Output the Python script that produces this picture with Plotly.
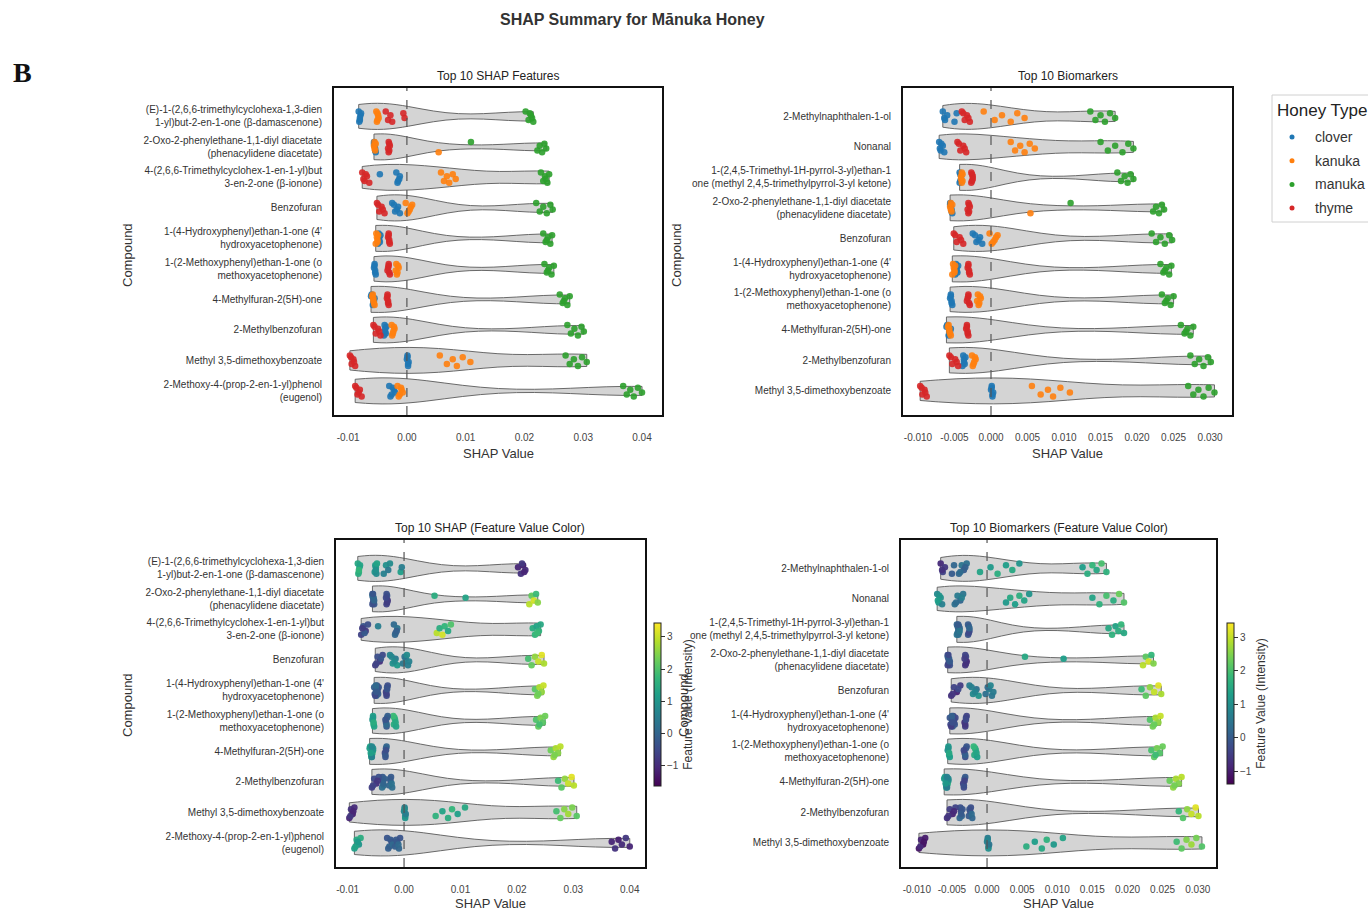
import plotly.graph_objects as go

# ---------------------------------------------------------------- data
HONEY_TYPES = ["clover", "kanuka", "manuka", "thyme"]
HONEY_COLORS = ["#1f77b4", "#ff7f0e", "#2ca02c", "#d62728"]

COMPOUNDS = [
    "(E)-1-(2,6,6-trimethylcyclohexa-1,3-dien<br>1-yl)but-2-en-1-one (β-damascenone)",
    "2-Oxo-2-phenylethane-1,1-diyl diacetate<br>(phenacylidene diacetate)",
    "4-(2,6,6-Trimethylcyclohex-1-en-1-yl)but<br>3-en-2-one (β-ionone)",
    "Benzofuran",
    "1-(4-Hydroxyphenyl)ethan-1-one (4'<br>hydroxyacetophenone)",
    "1-(2-Methoxyphenyl)ethan-1-one (o<br>methoxyacetophenone)",
    "4-Methylfuran-2(5H)-one",
    "2-Methylbenzofuran",
    "Methyl 3,5-dimethoxybenzoate",
    "2-Methoxy-4-(prop-2-en-1-yl)phenol<br>(eugenol)",
    "2-Methylnaphthalen-1-ol",
    "Nonanal",
    "1-(2,4,5-Trimethyl-1H-pyrrol-3-yl)ethan-1<br>one (methyl 2,4,5-trimethylpyrrol-3-yl ketone)",
]

# SHAP values per sample, one list per compound (same order as COMPOUNDS)
SHAP_CLOVER = [
    [-0.0082, -0.0080, -0.0079, -0.0081, -0.0078, -0.0080],
    [-0.0056, -0.0054, -0.0055, -0.0053, -0.0056, -0.0054],
    [-0.0018, -0.0015, -0.0012, -0.0016, -0.0046, -0.0013],
    [-0.0025, -0.0020, -0.0015, -0.0012, -0.0022, -0.0017],
    [-0.0048, -0.0046, -0.0047, -0.0049, -0.0045, -0.0047],
    [-0.0055, -0.0054, -0.0056, -0.0053, -0.0055, -0.0054],
    [-0.0060, -0.0057, -0.0055, -0.0058, -0.0061, -0.0056],
    [-0.0038, -0.0036, -0.0037, -0.0039, -0.0035, -0.0037],
    [0.0001, 0.0002, 0.0000, 0.0002, 0.0001, 0.0003],
    [-0.0030, -0.0026, -0.0022, -0.0028, -0.0024, -0.0020],
    [-0.0066, -0.0063, -0.0060, -0.0050, -0.0047, -0.0064],
    [-0.0071, -0.0069, -0.0066, -0.0064, -0.0068, -0.0070],
    [-0.0043, -0.0042, -0.0041, -0.0043, -0.0042, -0.0041],
]
SHAP_KANUKA = [
    [-0.0052, -0.0050, -0.0049, -0.0051, -0.0050, -0.0048],
    [-0.0055, -0.0054, -0.0056, 0.0054, -0.0053, -0.0055],
    [0.0058, 0.0063, 0.0068, 0.0072, 0.0078, 0.0083],
    [-0.0002, 0.0003, 0.0007, 0.0001, 0.0009, 0.0005],
    [-0.0052, -0.0050, -0.0051, -0.0053, -0.0049, -0.0050],
    [-0.0018, -0.0016, -0.0014, -0.0017, -0.0015, -0.0019],
    [-0.0058, -0.0056, -0.0057, -0.0055, -0.0059, -0.0057],
    [-0.0026, -0.0024, -0.0021, -0.0025, -0.0022, -0.0023],
    [0.0056, 0.0068, 0.0078, 0.0085, 0.0095, 0.0108],
    [-0.0016, -0.0012, -0.0009, -0.0014, -0.0010, -0.0007],
    [-0.0010, 0.0005, 0.0015, 0.0027, 0.0036, 0.0046],
    [0.0027, 0.0033, 0.0040, 0.0046, 0.0053, 0.0060],
    [-0.0040, -0.0039, -0.0041, -0.0040, -0.0039, -0.0041],
]
SHAP_MANUKA = [
    [0.0202, 0.0207, 0.0211, 0.0215, 0.0209, 0.0213],
    [0.0109, 0.0222, 0.0226, 0.0230, 0.0234, 0.0237],
    [0.0228, 0.0232, 0.0235, 0.0239, 0.0242, 0.0236],
    [0.0220, 0.0226, 0.0232, 0.0238, 0.0244, 0.0248],
    [0.0232, 0.0236, 0.0240, 0.0244, 0.0247, 0.0238],
    [0.0234, 0.0238, 0.0242, 0.0246, 0.0250, 0.0240],
    [0.0260, 0.0265, 0.0269, 0.0273, 0.0277, 0.0267],
    [0.0273, 0.0279, 0.0285, 0.0291, 0.0297, 0.0301],
    [0.0270, 0.0277, 0.0284, 0.0291, 0.0298, 0.0306],
    [0.0368, 0.0374, 0.0380, 0.0386, 0.0393, 0.0400],
    [0.0136, 0.0143, 0.0150, 0.0156, 0.0163, 0.0170],
    [0.0150, 0.0160, 0.0170, 0.0180, 0.0188, 0.0195],
    [0.0173, 0.0178, 0.0183, 0.0187, 0.0191, 0.0195],
]
SHAP_THYME = [
    [-0.0036, -0.0032, -0.0028, -0.0025, -0.0006, -0.0004],
    [-0.0031, -0.0030, -0.0029, -0.0031, -0.0030, -0.0032],
    [-0.0076, -0.0072, -0.0068, -0.0064, -0.0070, -0.0074],
    [-0.0051, -0.0047, -0.0043, -0.0038, -0.0049, -0.0041],
    [-0.0031, -0.0030, -0.0032, -0.0029, -0.0031, -0.0030],
    [-0.0031, -0.0030, -0.0032, -0.0029, -0.0031, -0.0033],
    [-0.0033, -0.0032, -0.0034, -0.0031, -0.0033, -0.0032],
    [-0.0057, -0.0053, -0.0049, -0.0045, -0.0055, -0.0047],
    [-0.0097, -0.0094, -0.0091, -0.0088, -0.0095, -0.0090],
    [-0.0088, -0.0084, -0.0080, -0.0077, -0.0086, -0.0082],
    [-0.0040, -0.0036, -0.0033, -0.0029, -0.0038, -0.0031],
    [-0.0046, -0.0042, -0.0038, -0.0034, -0.0044, -0.0036],
    [-0.0027, -0.0026, -0.0025, -0.0027, -0.0026, -0.0025],
]

# standardized feature value (intensity) of each sample
FEAT_CLOVER = [
    [1.4, 1.6, 1.2, 1.5, 1.3, 1.7],
    [-0.3, 0.0, -0.5, -0.2, 0.1, -0.4],
    [0.1, -0.2, 0.3, 0.0, 0.5, -0.1],
    [0.6, 0.9, 0.4, 1.1, 0.7, 0.8],
    [-0.4, -0.1, -0.6, 0.0, -0.3, -0.2],
    [1.2, 1.4, 1.0, 1.3, 1.1, 1.5],
    [1.3, 1.5, 1.1, 1.4, 1.2, 1.6],
    [-0.2, 0.1, -0.4, 0.2, -0.1, 0.0],
    [0.6, 0.9, 0.7, 1.0, 0.8, 0.5],
    [-0.3, 0.0, -0.5, -0.1, -0.2, 0.1],
    [-0.8, -0.4, -0.6, 0.0, 0.2, -0.7],
    [0.9, 1.2, 1.0, 0.7, 1.1, 1.3],
    [0.2, 0.4, 0.3, 0.5, 0.1, 0.3],
]
FEAT_KANUKA = [
    [1.0, 1.2, 0.8, 1.1, 0.9, 1.3],
    [-0.2, 0.1, -0.4, 1.5, 0.0, -0.3],
    [2.9, 1.5, 3.1, 1.7, 1.4, 2.0],
    [0.4, 0.7, 0.5, 0.3, 0.6, 0.8],
    [-0.3, 0.0, -0.5, -0.1, -0.2, 0.1],
    [1.5, 1.7, 1.3, 1.6, 1.4, 1.8],
    [0.8, 1.0, 0.6, 0.9, 1.2, 0.7],
    [0.0, -0.3, 0.2, -0.1, 0.3, -0.2],
    [1.6, 1.3, 1.5, 1.7, 1.2, 1.4],
    [-0.1, -0.4, 0.0, -0.2, 0.1, -0.3],
    [1.4, 1.2, 1.6, 1.3, 1.5, 1.1],
    [1.2, 1.5, 1.3, 1.6, 1.4, 1.1],
    [0.3, 0.1, 0.4, 0.2, 0.5, 0.0],
]
FEAT_MANUKA = [
    [-1.1, -0.9, -1.2, -1.0, -0.8, -1.1],
    [1.3, 2.9, 2.2, 3.1, 1.8, 2.5],
    [1.5, 1.7, 1.3, 1.6, 1.4, 1.8],
    [1.9, 2.2, 2.6, 3.0, 3.2, 2.8],
    [2.1, 2.4, 2.8, 2.6, 3.0, 2.3],
    [2.0, 2.2, 2.4, 2.1, 2.3, 1.9],
    [2.3, 2.6, 2.8, 2.5, 2.9, 2.4],
    [1.8, 2.1, 2.6, 3.0, 3.2, 2.9],
    [1.9, 2.2, 2.5, 2.7, 2.4, 2.1],
    [-1.1, -0.9, -1.2, -1.0, -0.8, -1.1],
    [1.3, 1.6, 1.8, 1.5, 2.0, 1.7],
    [1.4, 1.7, 2.0, 1.6, 2.3, 2.1],
    [1.5, 1.7, 1.4, 1.6, 1.8, 1.5],
]
FEAT_THYME = [
    [0.6, 0.9, 0.4, 0.8, 1.2, 0.5],
    [-0.6, -0.3, -0.8, -0.4, -0.7, -0.5],
    [-0.6, -0.3, -0.8, -0.4, -0.2, -0.7],
    [-0.7, -0.4, -0.9, -0.5, -0.6, -0.3],
    [-0.5, -0.2, -0.7, -0.4, -0.6, -0.3],
    [-0.2, 0.0, -0.4, -0.1, 0.1, -0.3],
    [-0.3, -0.1, -0.5, 0.0, -0.2, -0.4],
    [-0.7, -0.5, -0.9, -0.4, -0.6, -0.8],
    [-1.1, -0.9, -1.2, -1.0, -0.8, -1.1],
    [1.2, 1.4, 1.0, 1.5, 1.3, 1.1],
    [0.2, 0.5, 0.0, 0.4, 0.3, 0.1],
    [0.4, 0.6, 0.2, 0.5, 0.3, 0.7],
    [-0.1, 0.1, -0.2, 0.0, -0.3, 0.2],
]

# compounds shown in each panel, top to bottom (indices into COMPOUNDS)
SHAP_TOP10 = [0, 1, 2, 3, 4, 5, 6, 7, 8, 9]
BIOMARKER_TOP10 = [10, 11, 12, 1, 3, 4, 5, 6, 7, 8]

TICKS_SHAP = [-0.01, 0.0, 0.01, 0.02, 0.03, 0.04]
TICKS_BIO = [-0.010, -0.005, 0.000, 0.005, 0.010, 0.015, 0.020, 0.025, 0.030]
COLORBAR_TICKS = [-1, 0, 1, 2, 3]

SHAP_BY_TYPE = [SHAP_CLOVER, SHAP_KANUKA, SHAP_MANUKA, SHAP_THYME]
FEAT_BY_TYPE = [FEAT_CLOVER, FEAT_KANUKA, FEAT_MANUKA, FEAT_THYME]

# ---------------------------------------------------------------- layout helpers
W, H = 1368, 911
FONT = "Liberation Sans, Arial, sans-serif"
# vertical spread of points inside a violin (strip-plot pattern, in row units)
SPREAD = [-0.16, 0.12, -0.04, 0.18, -0.10, 0.05]


def px(x):
    return x / W


def py(y):
    return 1 - y / H


def label(text, x, y, size, color="#333", angle=0, xanchor="center", family=None):
    f = dict(size=size, color=color)
    if family:
        f["family"] = family
    return dict(text=text, x=px(x), y=py(y), xref="paper", yref="paper",
                xanchor=xanchor, yanchor="middle", textangle=angle,
                showarrow=False, font=f)


panels = [
    dict(k="", order=SHAP_TOP10, ticks=TICKS_SHAP, fmt="{:.2f}", by_value=False,
         xdom=(334, 662), ydom=(88, 415), xr=(-0.0124, 0.0434), yr=(9.79, -0.93),
         title="Top 10 SHAP Features"),
    dict(k="2", order=BIOMARKER_TOP10, ticks=TICKS_BIO, fmt="{:.3f}", by_value=False,
         xdom=(903, 1232), ydom=(88, 415), xr=(-0.01205, 0.0330), yr=(9.79, -0.93),
         title="Top 10 Biomarkers"),
    dict(k="3", order=SHAP_TOP10, ticks=TICKS_SHAP, fmt="{:.2f}", by_value=True,
         xdom=(336, 645), ydom=(540, 867), xr=(-0.01206, 0.0427), yr=(9.79, -0.93),
         title="Top 10 SHAP (Feature Value Color)",
         cb=dict(x=654, top=623, bottom=786, cmin=-1.63, cmax=3.43)),
    dict(k="4", order=BIOMARKER_TOP10, ticks=TICKS_BIO, fmt="{:.3f}", by_value=True,
         xdom=(901, 1216), ydom=(540, 867), xr=(-0.01225, 0.0326), yr=(9.79, -0.93),
         title="Top 10 Biomarkers (Feature Value Color)",
         cb=dict(x=1227, top=623, bottom=784, cmin=-1.37, cmax=3.42)),
]

fig = go.Figure()
layout = dict(
    width=W, height=H, margin=dict(l=0, r=0, t=0, b=0),
    paper_bgcolor="white", plot_bgcolor="white",
    font=dict(family=FONT, color="#333"),
    violinmode="overlay", shapes=[], annotations=[], showlegend=False,
)

for p in panels:
    xa, ya = "x" + p["k"], "y" + p["k"]
    rows = p["order"]

    # one violin per compound over all honey types
    for r, ci in enumerate(rows):
        vals = []
        for t in range(4):
            vals += SHAP_BY_TYPE[t][ci]
        fig.add_trace(go.Violin(
            x=vals, y0=r, orientation="h", xaxis=xa, yaxis=ya,
            width=0.85, spanmode="hard", points=False, side="both",
            fillcolor="rgba(205,205,205,0.85)", line=dict(color="#5a5a5a", width=0.9),
            showlegend=False, hoverinfo="skip",
        ))

    if not p["by_value"]:
        for t, name in enumerate(HONEY_TYPES):
            xs, ys = [], []
            for r, ci in enumerate(rows):
                for j, v in enumerate(SHAP_BY_TYPE[t][ci]):
                    xs.append(v)
                    ys.append(r + SPREAD[j % len(SPREAD)])
            fig.add_trace(go.Scatter(
                x=xs, y=ys, mode="markers", name=name, xaxis=xa, yaxis=ya,
                marker=dict(color=HONEY_COLORS[t], size=6.5, opacity=0.9),
                showlegend=False,
            ))
    else:
        xs, ys, cs = [], [], []
        for r, ci in enumerate(rows):
            for t in range(4):
                for j, v in enumerate(SHAP_BY_TYPE[t][ci]):
                    xs.append(v)
                    ys.append(r + SPREAD[(j + t) % len(SPREAD)])
                    cs.append(FEAT_BY_TYPE[t][ci][j])
        cb = p["cb"]
        fig.add_trace(go.Scatter(
            x=xs, y=ys, mode="markers", xaxis=xa, yaxis=ya, showlegend=False,
            marker=dict(
                color=cs, colorscale="Viridis", cmin=cb["cmin"], cmax=cb["cmax"],
                size=6.5, opacity=0.95,
                colorbar=dict(
                    x=px(cb["x"]), xanchor="left", xpad=0, ypad=0,
                    y=py((cb["top"] + cb["bottom"]) / 2), yanchor="middle",
                    len=(cb["bottom"] - cb["top"]) / H, lenmode="fraction",
                    thickness=7, outlinewidth=1, outlinecolor="#222",
                    ticks="outside", ticklen=4, tickcolor="#333",
                    tickvals=COLORBAR_TICKS, tickfont=dict(size=10, color="#444"),
                    title=dict(text="Feature Value (Intensity)", side="right",
                               font=dict(size=12, color="#333")),
                ),
            ),
        ))

    layout["xaxis" + p["k"]] = dict(
        domain=[px(p["xdom"][0]), px(p["xdom"][1])], anchor=ya,
        range=list(p["xr"]), showgrid=False, zeroline=False,
        showline=True, mirror=True, linecolor="#111", linewidth=2, ticks="",
        tickvals=p["ticks"], ticktext=[p["fmt"].format(v) for v in p["ticks"]],
        tickfont=dict(size=10, color="#444"), ticklabelstandoff=12,
    )
    layout["yaxis" + p["k"]] = dict(
        domain=[py(p["ydom"][1]), py(p["ydom"][0])], anchor=xa, type="linear",
        range=list(p["yr"]), showgrid=False, zeroline=False,
        showline=True, mirror=True, linecolor="#111", linewidth=2, ticks="",
        tickvals=list(range(len(rows))), ticktext=[COMPOUNDS[ci] for ci in rows],
        tickfont=dict(size=10, color="#333"), ticklabelstandoff=8,
    )

    # zero reference line
    layout["shapes"].append(dict(
        type="line", xref=xa, yref=ya + " domain", x0=0, x1=0, y0=0, y1=1,
        line=dict(color="#555", width=1.2, dash="dash"), layer="above",
    ))

    cx = (p["xdom"][0] + p["xdom"][1]) / 2
    layout["annotations"] += [
        label(p["title"], cx, p["ydom"][0] - 12, 12, "#222"),
        label("SHAP Value", cx, min(p["ydom"][1] + 38, 903), 13),
    ]

# y-axis titles
for (x, y) in [(127, 255), (676, 255), (127, 705), (683, 705)]:
    layout["annotations"].append(label("Compound", x, y, 13, angle=-90))

layout["annotations"] += [
    label("<b>SHAP Summary for Mānuka Honey</b>", 632, 20, 16),
    label("<b>B</b>", 22, 72, 28, "#111", family="Liberation Serif, Times New Roman, serif"),
]

# honey-type key (box, title, coloured dots)
layout["shapes"].append(dict(
    type="rect", xref="paper", yref="paper", x0=px(1272), x1=px(1380), y0=py(222), y1=py(95),
    line=dict(color="#d0d0d0", width=1), fillcolor="white", layer="above",
))
layout["annotations"].append(label("Honey Type", 1275, 111, 17, "#222", xanchor="left"))
for t, name in enumerate(HONEY_TYPES):
    yy = 137 + t * 23.7
    layout["shapes"].append(dict(
        type="circle", xref="paper", yref="paper",
        x0=px(1289.5), x1=px(1294.5), y0=py(yy + 2.5), y1=py(yy - 2.5),
        fillcolor=HONEY_COLORS[t], line=dict(width=0), layer="above",
    ))
    layout["annotations"].append(label(name, 1313, yy, 14, "#333", xanchor="left"))

fig.update_layout(**layout)
fig.write_html("out.html")
